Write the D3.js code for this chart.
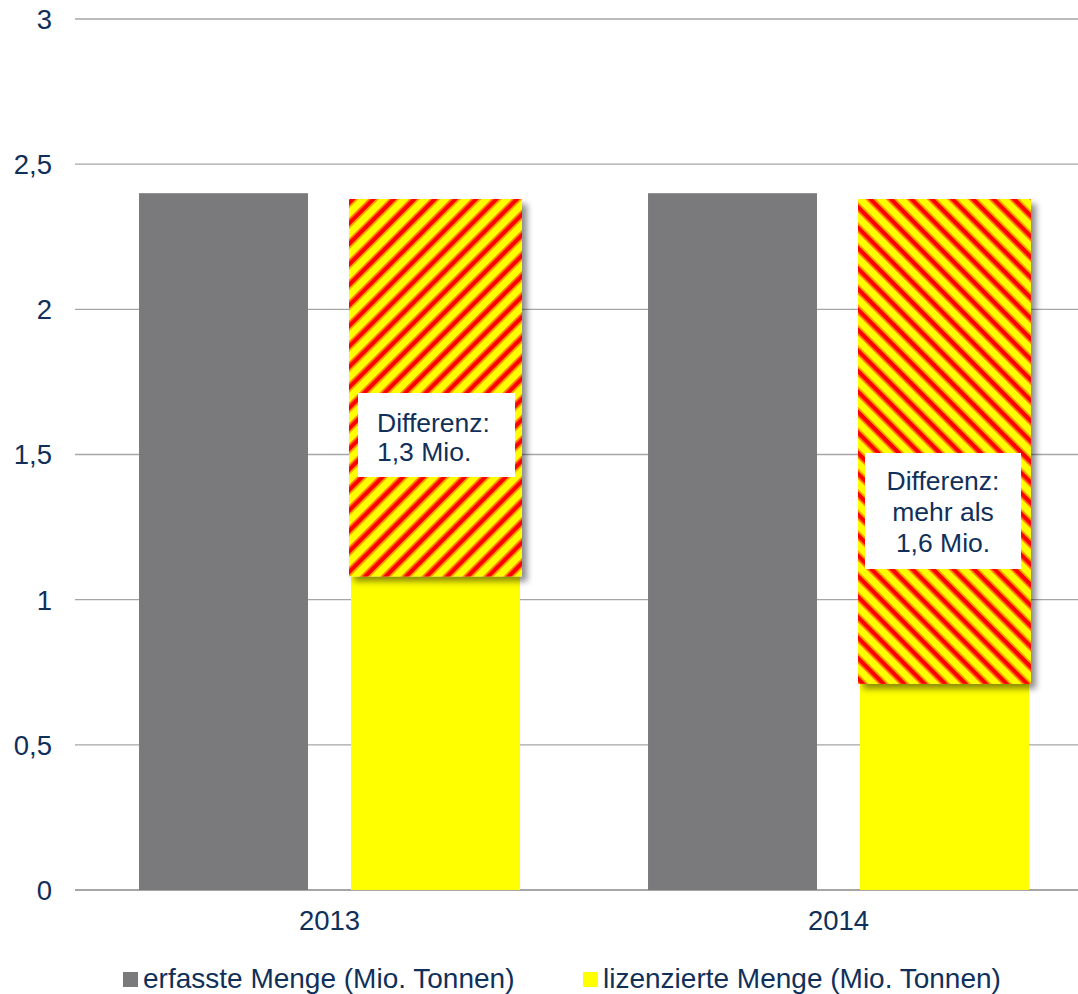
<!DOCTYPE html>
<html>
<head>
<meta charset="utf-8">
<script src="https://d3js.org/d3.v7.min.js"></script>
<style>
  body { margin: 0; background: #fff; }
  text { font-family: "Liberation Sans", Arial, sans-serif; fill: #10305a; }
</style>
</head>
<body>
<svg id="chart" width="1078" height="994"></svg>
<script>
// data
var years = ["2013", "2014"];
var erfasst = [2.40, 2.40];
var lizenziert = [1.08, 0.71];
var differenz = [1.30, 1.67];
var diffLabels = [["Differenz:", "1,3 Mio."], ["Differenz:", "mehr als", "1,6 Mio."]];
var yTicks = [0, 0.5, 1, 1.5, 2, 2.5, 3];
var yTickLabels = ["0", "0,5", "1", "1,5", "2", "2,5", "3"];
var seriesNames = ["erfasste Menge (Mio. Tonnen)", "lizenzierte Menge (Mio. Tonnen)"];
var seriesColors = ["#7a7a7c", "#ffff00"];

var svg = d3.select("#chart");

var y = d3.scaleLinear().domain([0, 3]).range([890, 19]);
var x = d3.scaleBand().domain(years).range([75, 1093]);
var xs = d3.scaleBand().domain([0, 1]).range([0, x.bandwidth()])
  .paddingInner(0.203).paddingOuter(0.302);

var defs = svg.append("defs");
[["hatchA", 45], ["hatchB", -45]].forEach(function(p) {
  var pat = defs.append("pattern")
      .attr("id", p[0])
      .attr("patternUnits", "userSpaceOnUse")
      .attr("width", 14.5).attr("height", 14.5)
      .attr("patternTransform", "rotate(" + p[1] + ")");
  pat.append("rect").attr("width", 14.5).attr("height", 14.5).attr("fill", "#ffff00");
  pat.append("rect").attr("x", 0).attr("width", 1.5).attr("height", 14.5).attr("fill", "#ff8c00");
  pat.append("rect").attr("x", 1.5).attr("width", 4.5).attr("height", 14.5).attr("fill", "#ff0000");
  pat.append("rect").attr("x", 6).attr("width", 1.5).attr("height", 14.5).attr("fill", "#ff8c00");
});
var shadow = defs.append("filter").attr("id", "shadow")
    .attr("x", "-10%").attr("y", "-10%").attr("width", "130%").attr("height", "130%");
shadow.append("feDropShadow")
    .attr("dx", 5).attr("dy", 5).attr("stdDeviation", 3)
    .attr("flood-color", "#000").attr("flood-opacity", 0.45);

// grid + y labels
svg.append("g").selectAll("line")
    .data(yTicks)
  .enter().append("line")
    .attr("x1", 75).attr("x2", 1078)
    .attr("y1", function(d) { return y(d); })
    .attr("y2", function(d) { return y(d); })
    .attr("stroke", "#a6a6a6")
    .attr("stroke-width", function(d) { return d === 0 ? 2 : 1.3; });

svg.append("g").selectAll("text")
    .data(yTicks)
  .enter().append("text")
    .attr("x", 52)
    .attr("y", function(d) { return y(d); })
    .attr("dy", "0.36em")
    .attr("text-anchor", "end")
    .style("font-size", "27.5px")
    .text(function(d, i) { return yTickLabels[i]; });

// bars
var groups = svg.append("g").selectAll("g")
    .data(years)
  .enter().append("g")
    .attr("transform", function(d) { return "translate(" + x(d) + ",0)"; });

groups.append("rect")
    .attr("x", xs(0))
    .attr("width", xs.bandwidth())
    .attr("y", function(d, i) { return y(erfasst[i]); })
    .attr("height", function(d, i) { return y(0) - y(erfasst[i]); })
    .attr("fill", seriesColors[0]);

groups.append("rect")
    .attr("x", xs(1))
    .attr("width", xs.bandwidth())
    .attr("y", function(d, i) { return y(lizenziert[i]); })
    .attr("height", function(d, i) { return y(0) - y(lizenziert[i]); })
    .attr("fill", seriesColors[1]);

// hatched difference on top of the licensed amount
groups.append("rect")
    .attr("x", xs(1) - 2)
    .attr("width", xs.bandwidth() + 4)
    .attr("y", function(d, i) { return y(lizenziert[i] + differenz[i]); })
    .attr("height", function(d, i) { return y(lizenziert[i]) - y(lizenziert[i] + differenz[i]); })
    .attr("fill", function(d, i) { return i === 0 ? "url(#hatchA)" : "url(#hatchB)"; })
    .attr("filter", "url(#shadow)");

// callout boxes
var boxes = [
  {x: 7, y: 393, w: 157, h: 84, anchor: "start", tx: 19, ty: 39, lh: 29},
  {x: 5, y: 453, w: 156, h: 116, anchor: "middle", tx: 78, ty: 37, lh: 31}
];
groups.each(function(d, i) {
  var b = boxes[i];
  var g = d3.select(this).append("g")
      .attr("transform", "translate(" + (xs(1) + b.x) + "," + b.y + ")");
  g.append("rect").attr("width", b.w).attr("height", b.h).attr("fill", "#fff");
  g.selectAll("text")
      .data(diffLabels[i])
    .enter().append("text")
      .attr("x", b.tx)
      .attr("y", function(t, j) { return b.ty + j * b.lh; })
      .attr("text-anchor", b.anchor)
      .style("font-size", "26.5px")
      .text(function(t) { return t; });
});

// x labels
svg.append("g").selectAll("text")
    .data(years)
  .enter().append("text")
    .attr("x", function(d) { return x(d) + x.bandwidth() / 2; })
    .attr("y", 930)
    .attr("text-anchor", "middle")
    .style("font-size", "27.5px")
    .text(function(d) { return d; });

// legend
var legX = [123, 583];
var leg = svg.append("g").selectAll("g")
    .data(seriesNames)
  .enter().append("g")
    .attr("transform", function(d, i) { return "translate(" + legX[i] + ",972)"; });
leg.append("rect").attr("width", 15).attr("height", 15)
    .attr("fill", function(d, i) { return seriesColors[i]; });
leg.append("text")
    .attr("x", 20).attr("y", 16)
    .style("font-size", "28px")
    .text(function(d) { return d; });
</script>
</body>
</html>
